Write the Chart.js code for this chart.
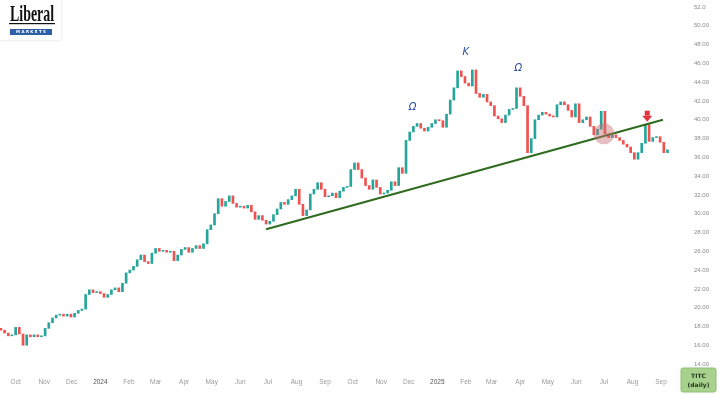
<!DOCTYPE html>
<html>
<head>
<meta charset="utf-8">
<script src="https://cdn.jsdelivr.net/npm/chart.js@4.4.0/dist/chart.umd.min.js"></script>
<style>
  html, body { margin: 0; padding: 0; background: #fff; }
  #wrap { width: 720px; height: 394px; position: relative; }
</style>
</head>
<body>
<div id="wrap"><canvas id="titc"></canvas></div>
<script>
// TITC daily candles, one candle every few days
const startDate = '2023-09-15';
const stepDays = 4;
const firstOpen = 17.8;
const closes = [
  17.6, 17.3, 17.0, 17.1, 17.9, 17.2, 16.0, 17.1, 16.9, 17.1,
  16.9, 17.0, 17.8, 18.4, 18.9, 19.2, 19.3, 19.1, 19.3, 19.0,
  19.4, 19.7, 19.85, 21.4, 21.9, 21.6, 21.7, 21.5, 21.1, 21.4,
  21.9, 22.1, 21.7, 22.6, 23.7, 24.0, 24.4, 25.1, 25.6, 24.9,
  24.7, 25.8, 26.3, 26.0, 26.1, 25.9, 26.0, 25.0, 25.6, 26.2,
  26.4, 25.9, 26.3, 26.6, 26.3, 26.8, 28.3, 28.8, 30.0, 31.6,
  30.8, 31.3, 31.9, 31.1, 30.7, 30.8, 30.6, 30.9, 30.2, 29.4,
  29.8, 29.3, 28.9, 29.2, 29.9, 30.5, 31.2, 31.0, 31.5, 31.9,
  32.6, 31.0, 29.8, 30.4, 32.1, 32.6, 33.3, 32.6, 31.8, 31.9,
  32.2, 31.7, 32.4, 32.8, 32.9, 34.7, 35.4, 34.7, 33.8, 33.0,
  32.6, 33.6, 32.8, 32.1, 32.2, 32.5, 33.4, 33.0, 34.9, 34.3,
  37.8, 38.7, 39.3, 39.6, 39.1, 38.8, 39.2, 39.6, 40.0, 39.9,
  39.2, 40.6, 42.1, 43.4, 45.2, 44.6, 43.9, 43.6, 45.3, 42.8,
  42.4, 42.7, 41.9, 41.5, 40.4, 40.1, 39.7, 40.5, 41.1, 41.2,
  43.4, 42.5, 41.5, 36.5, 38.0, 40.0, 40.5, 40.8, 40.6, 40.4,
  40.3, 41.6, 41.9, 41.6, 41.0, 40.3, 41.7, 39.7, 40.0, 40.3,
  39.3, 38.4, 39.0, 40.9, 38.5, 38.1, 38.4, 38.1, 37.8, 37.4,
  37.1, 36.5, 35.8, 36.5, 37.5, 39.5, 37.7, 38.1, 38.2, 37.6,
  36.5, 36.8
];

const monthLabels = ['Oct', 'Nov', 'Dec', '2024', 'Feb', 'Mar', 'Apr', 'May', 'Jun', 'Jul', 'Aug', 'Sep',
  'Oct', 'Nov', 'Dec', '2025', 'Feb', 'Mar', 'Apr', 'May', 'Jun', 'Jul', 'Aug', 'Sep'];
const monthDates = ['2023-10-01', '2023-11-01', '2023-12-01', '2024-01-01', '2024-02-01', '2024-03-01',
  '2024-04-01', '2024-05-01', '2024-06-01', '2024-07-01', '2024-08-01', '2024-09-01',
  '2024-10-01', '2024-11-01', '2024-12-01', '2025-01-01', '2025-02-01', '2025-03-01',
  '2025-04-01', '2025-05-01', '2025-06-01', '2025-07-01', '2025-08-01', '2025-09-01'];
const yTicks = [14, 16, 18, 20, 22, 24, 26, 28, 30, 32, 34, 36, 38, 40, 42, 44, 46, 48, 50, 52];

const trendDates = ['2024-06-29', '2025-09-03'];
const trendPrices = [28.35, 40.0];
const circleDate = '2025-07-01';
const circlePrice = 38.5;
const arrowDate = '2025-08-17';
const arrowPrice = 39.8;
const markTexts = ['\u03A9', 'K', '\u03A9'];
const markDates = ['2024-12-05', '2025-02-01', '2025-03-30'];
const markPrices = [41.3, 47.2, 45.5];

const upColor = '#26a69a';
const downColor = '#ef5350';

function day(s) {
  return (Date.parse(s) - Date.parse('2023-10-01')) / 86400000;
}

const candles = closes.map(function (c, i) {
  const o = i === 0 ? firstOpen : closes[i - 1];
  return { x: day(startDate) + i * stepDays, y: [o, c] };
});

// logo, letters, arrow and ticker box
const extras = {
  id: 'extras',
  afterDraw: function (chart) {
    const ctx = chart.ctx;
    const xs = chart.scales.x, ys = chart.scales.y;
    ctx.save();

    // letters above the tops
    ctx.fillStyle = '#2b4a9e';
    ctx.font = 'italic 10px "DejaVu Sans"';
    ctx.textAlign = 'center';
    ctx.textBaseline = 'middle';
    markTexts.forEach(function (t, i) {
      ctx.fillText(t, xs.getPixelForValue(day(markDates[i])), ys.getPixelForValue(markPrices[i]));
    });

    // red arrow pointing down
    const ax = xs.getPixelForValue(day(arrowDate));
    const ay = ys.getPixelForValue(arrowPrice);
    ctx.fillStyle = '#e0353c';
    ctx.fillRect(ax - 2.5, ay - 11, 5, 5);
    ctx.beginPath();
    ctx.moveTo(ax - 5, ay - 6);
    ctx.lineTo(ax + 5, ay - 6);
    ctx.lineTo(ax, ay);
    ctx.closePath();
    ctx.fill();

    // logo
    ctx.shadowColor = 'rgba(0,0,0,0.15)';
    ctx.shadowBlur = 3;
    ctx.fillStyle = '#fff';
    ctx.beginPath();
    ctx.roundRect(-3, -3, 64, 43, 3);
    ctx.fill();
    ctx.shadowBlur = 0;
    ctx.fillStyle = '#111';
    ctx.textAlign = 'left';
    ctx.textBaseline = 'alphabetic';
    ctx.font = 'bold 24px "Liberation Serif"';
    ctx.save();
    ctx.translate(10, 21);
    ctx.scale(0.58, 1);
    ctx.fillText('Liberal', 0, 0);
    ctx.restore();
    ctx.fillRect(9, 23, 46, 1.2);
    ctx.fillStyle = '#2d5fa6';
    ctx.fillRect(10, 29, 42, 6);
    ctx.fillStyle = '#fff';
    ctx.font = 'bold 4px "DejaVu Sans"';
    ctx.textAlign = 'center';
    ctx.textBaseline = 'middle';
    ctx.fillText('M A R K E T S', 31, 32.2);

    // ticker box
    ctx.fillStyle = '#a9d18e';
    ctx.strokeStyle = '#8fbf72';
    ctx.beginPath();
    ctx.roundRect(681, 368, 35, 24, 2);
    ctx.fill();
    ctx.stroke();
    ctx.fillStyle = '#22361a';
    ctx.font = 'bold 6px "DejaVu Sans"';
    ctx.fillText('TITC', 698.5, 376);
    ctx.fillText('(daily)', 698.5, 385);
    ctx.restore();
  }
};

new Chart(document.getElementById('titc'), {
  type: 'bar',
  data: {
    datasets: [
      {
        type: 'line',
        data: [{ x: day(circleDate), y: circlePrice }],
        showLine: false,
        pointRadius: 10.5,
        pointBackgroundColor: 'rgba(200,110,115,0.45)',
        pointBorderWidth: 0,
        order: 0
      },
      {
        type: 'line',
        data: trendDates.map(function (d, i) { return { x: day(d), y: trendPrices[i] }; }),
        borderColor: '#2f6b1e',
        borderWidth: 2,
        pointRadius: 0,
        order: 1
      },
      {
        type: 'bar',
        data: candles,
        barThickness: 2,
        minBarLength: 1,
        backgroundColor: function (c) {
          const v = c.raw;
          return v && v.y[1] >= v.y[0] ? upColor : downColor;
        },
        order: 2
      }
    ]
  },
  options: {
    responsive: true,
    maintainAspectRatio: false,
    devicePixelRatio: 1,
    animation: false,
    layout: { padding: 0, autoPadding: false },
    plugins: { legend: { display: false }, tooltip: { enabled: false } },
    scales: {
      x: {
        type: 'linear',
        offset: false,
        min: day('2023-09-14'),
        max: day('2025-09-27'),
        grid: { display: false, drawTicks: false },
        border: { display: false },
        afterBuildTicks: function (scale) {
          scale.ticks = monthDates.map(function (d) { return { value: day(d) }; });
        },
        afterFit: function (scale) {
          scale.height = 22;
          scale.paddingLeft = 0;
          scale.paddingRight = 0;
        },
        ticks: {
          autoSkip: false,
          maxRotation: 0,
          padding: 6,
          font: { family: 'Liberation Sans', size: 6.5 },
          color: function (c) {
            return /^20/.test(monthLabels[c.index]) ? '#555' : '#9a9a9a';
          },
          callback: function (v, i) { return monthLabels[i]; }
        }
      },
      y: {
        position: 'right',
        min: 13.15,
        max: 52.75,
        grid: { display: false, drawTicks: false },
        border: { display: false },
        afterBuildTicks: function (scale) {
          scale.ticks = yTicks.map(function (v) { return { value: v }; });
        },
        afterFit: function (scale) {
          scale.width = 35;
          scale.paddingTop = 0;
          scale.paddingBottom = 0;
        },
        ticks: {
          autoSkip: false,
          padding: 9,
          font: { family: 'Liberation Sans', size: 6 },
          color: '#8a8a8a',
          callback: function (v) { return v === 52 ? '52.0' : v.toFixed(2); }
        }
      }
    }
  },
  plugins: [extras]
});
</script>
</body>
</html>
